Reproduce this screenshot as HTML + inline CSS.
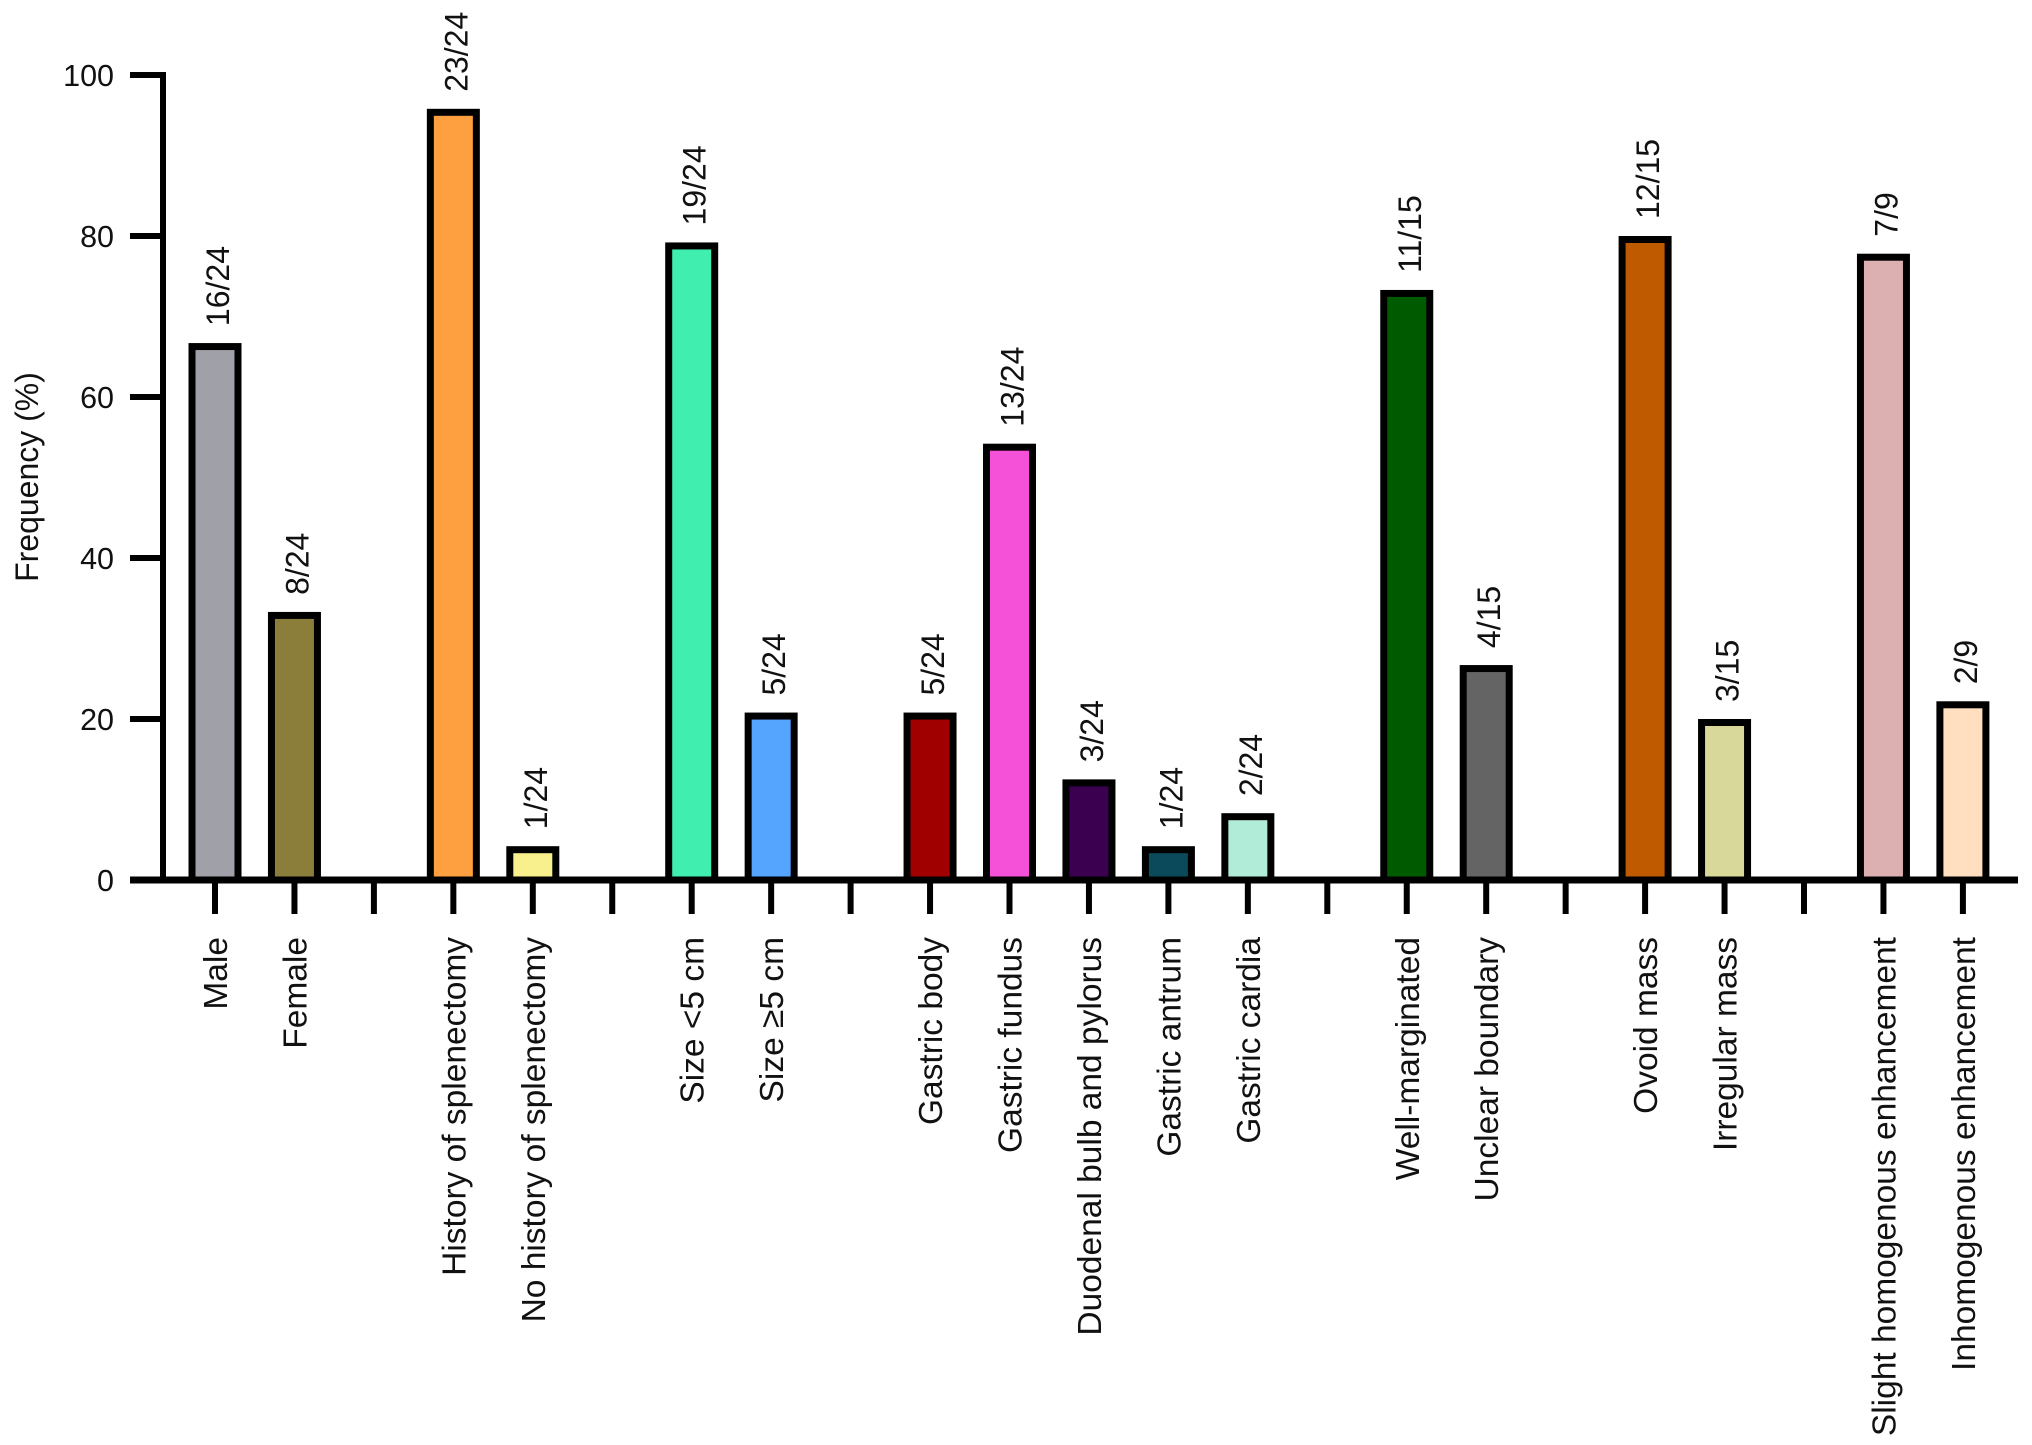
<!DOCTYPE html>
<html><head><meta charset="utf-8">
<style>
html,body{margin:0;padding:0;background:#fff;}
svg{display:block;}
text{font-family:"Liberation Sans",Arial,sans-serif;fill:#111;}
</style></head>
<body>
<svg id="chart" width="2032" height="1445" viewBox="0 0 2032 1445" xmlns="http://www.w3.org/2000/svg">
<text transform="translate(38,477) rotate(-90)" text-anchor="middle" font-size="32">Frequency (%)</text>
<g id="plot"></g>
</svg>
<script>
const categories = ["Male","Female","History of splenectomy","No history of splenectomy","Size <5 cm","Size \u22655 cm","Gastric body","Gastric fundus","Duodenal bulb and pylorus","Gastric antrum","Gastric cardia","Well-marginated","Unclear boundary","Ovoid mass","Irregular mass","Slight homogenous enhancement","Inhomogenous enhancement"];
const values = [66.7,33.3,95.8,4.2,79.2,20.8,20.8,54.2,12.5,4.2,8.3,73.3,26.7,80,20,77.8,22.2];
const valueLabels = ["16/24","8/24","23/24","1/24","19/24","5/24","5/24","13/24","3/24","1/24","2/24","11/15","4/15","12/15","3/15","7/9","2/9"];
const slots = [0,1,3,4,6,7,9,10,11,12,13,15,16,18,19,21,22];
const gapSlots = [2,5,8,14,17,20];
const colors = ["#a0a0a8","#8b7d3a","#ffa040","#f8f08c","#40eeb0","#55a5ff","#a00000","#f550d8","#3c0050","#0a4a5a","#b0ecd8","#005a00","#646464","#c05a00","#d8d89a","#dcb0b0","#ffdfbf"];
const yTicks = [0,20,40,60,80,100];

const NS = "http://www.w3.org/2000/svg";
const plot = document.getElementById("plot");
const y0 = 880, yTop = 75, xAxis = 163, xEnd = 2018;
const yScale = v => y0 - (v/100)*(y0-yTop);
const xSlot = i => 215 + 79.45*i;
const barW = 46, bw = 7;
function mk(tag, attrs){ const e=document.createElementNS(NS,tag); for(const k in attrs) e.setAttribute(k,attrs[k]); plot.appendChild(e); return e; }

values.forEach((v,i)=>{
  const cx = xSlot(slots[i]);
  const top = yScale(v);
  const r = mk("rect",{x:cx-barW/2, y:top+bw/2, width:barW, height:Math.max(0,y0-top-bw/2), fill:colors[i], stroke:"#000","stroke-width":bw});
  
  
  const t = mk("text",{transform:`translate(${cx+14},${top-17}) rotate(-90)`,"font-size":32});
  t.textContent = valueLabels[i];
  
  
  const tick = mk("line",{x1:cx,x2:cx,y1:y0,y2:914,stroke:"#000","stroke-width":6});
  
  
  const lab = mk("text",{transform:`translate(${cx+12},937) rotate(-90)`,"font-size":33.5,"text-anchor":"end"});
  lab.textContent = categories[i];
  
  
});
gapSlots.forEach(s=>{
  const cx = xSlot(s);
  const tick = mk("line",{x1:cx,x2:cx,y1:y0,y2:914,stroke:"#000","stroke-width":6});
  
  
});
const ya = mk("line",{x1:xAxis,x2:xAxis,y1:yTop-3,y2:y0+3,stroke:"#000","stroke-width":6});


const xa = mk("line",{x1:xAxis-33,x2:xEnd,y1:y0,y2:y0,stroke:"#000","stroke-width":7});


yTicks.forEach(v=>{
  const y = yScale(v);
  const l = mk("line",{x1:xAxis-33,x2:xAxis,y1:y,y2:y,stroke:"#000","stroke-width":6});
  
  
  const t = mk("text",{x:114,y:y+11,"text-anchor":"end","font-size":30.5});
  t.textContent = v;
  
  
});
</script>
</body></html>
